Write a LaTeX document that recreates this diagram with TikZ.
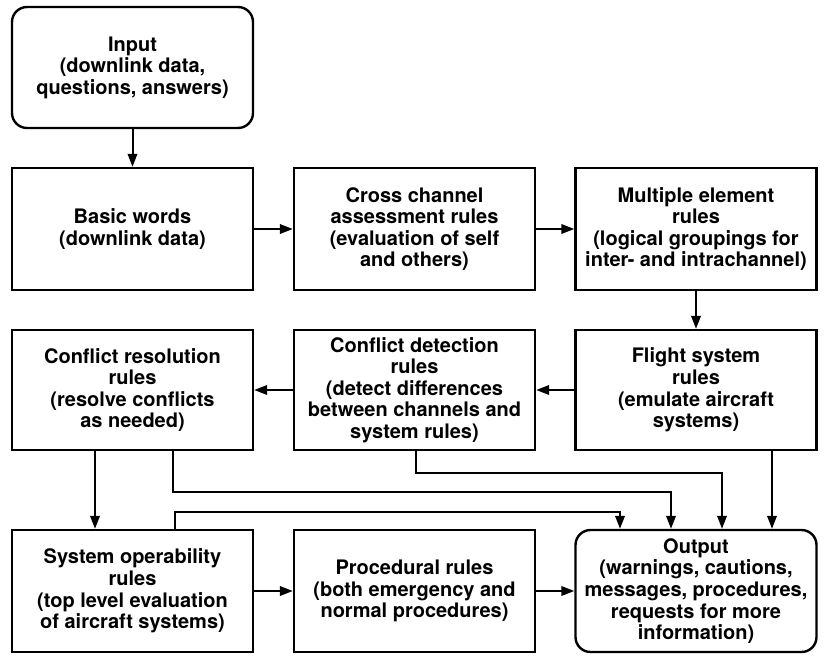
\documentclass[tikz,border=0pt]{standalone}
\usepackage{fontspec}
\setmainfont{TeX Gyre Heros}
\usetikzlibrary{arrows.meta}
\begin{document}
\begin{tikzpicture}[x=1pt,y=-1pt,
  box/.style={draw=black, line width=2.4pt, minimum width=241pt, minimum height=122pt, inner sep=0pt, align=center, font=\fontsize{20}{21.6}\selectfont\bfseries},
  rbox/.style={box, rounded corners=15pt},
  arr/.style={line width=2pt, -{Triangle[length=13pt,width=9.5pt]}}]
\useasboundingbox (0,0) rectangle (826,663);
\node[rbox, minimum height=121pt] (in) at (132.5,67.5) {Input\\(downlink data,\\questions, answers)};
\node[box] (bw) at (132.5,229) {Basic words\\(downlink data)};
\node[box] (cc) at (414.5,229) {Cross channel\\assessment rules\\(evaluation of self\\and others)};
\node[box] (me) at (696,229) {Multiple element\\rules\\(logical groupings for\\inter- and intrachannel)};
\node[box, minimum height=120pt] (cr) at (132.5,390) {Conflict resolution\\rules\\(resolve conflicts\\as needed)};
\node[box, minimum height=120pt] (cd) at (414.5,390) {Conflict detection\\rules\\(detect differences\\between channels and\\system rules)};
\node[box, minimum height=120pt] (fs) at (696,390) {Flight system\\rules\\(emulate aircraft\\systems)};
\node[box] (so) at (132.5,591) {System operability\\rules\\(top level evaluation\\of aircraft systems)};
\node[box] (pr) at (414.5,591) {Procedural rules\\(both emergency and\\normal procedures)};
\node[rbox] (out) at (696,591) {Output\\(warnings, cautions,\\messages, procedures,\\requests for more\\information)};
\draw[arr] (in.south) -- (bw.north);
\draw[arr] (bw.east) -- (cc.west);
\draw[arr] (cc.east) -- (me.west);
\draw[arr] (me.south) -- (fs.north);
\draw[arr] (fs.west) -- (cd.east);
\draw[arr] (cd.west) -- (cr.east);
\draw[arr] (cr.south -| 95,0) -- (so.north -| 95,0);
\draw[arr] (cr.south -| 173,0) -- (173,492) -| (out.north -| 671,0);
\draw[arr] (cd.south -| 416,0) -- (416,473) -| (out.north -| 722,0);
\draw[arr] (fs.south -| 772,0) -- (out.north -| 772,0);
\draw[arr] (so.north -| 175,0) -- (175,512) -| (out.north -| 620,0);
\draw[arr] (so.east) -- (pr.west);
\draw[arr] (pr.east) -- (out.west);
\end{tikzpicture}
\end{document}
